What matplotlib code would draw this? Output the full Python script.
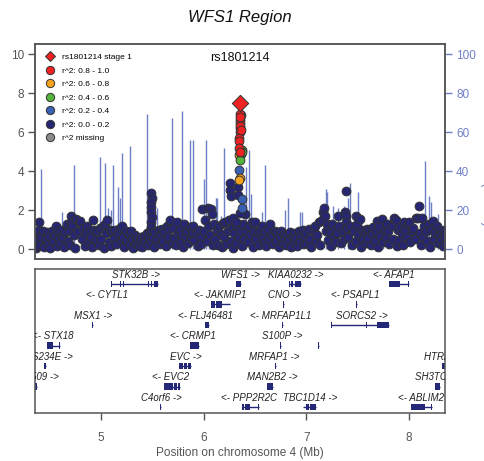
import matplotlib
matplotlib.use("Agg")
import matplotlib.pyplot as plt
from matplotlib.lines import Line2D
from matplotlib.patches import Rectangle

plt.rcParams['font.family'] = ['Liberation Sans', 'DejaVu Sans']

# --- association results (Mb, -log10 p) ---
lead_snp = "rs1801214"
lead_pos = [6.356]
lead_logp = [7.5]

r2_high_pos = [6.356, 6.352, 6.356, 6.352, 6.356, 6.344, 6.348, 6.340, 6.350, 6.354, 6.360, 6.358]
r2_high_logp = [6.9, 6.6, 6.45, 6.2, 6.0, 5.68, 5.54, 5.18, 6.75, 6.3, 6.1, 4.98]
r2_mid_pos = [6.346, 6.354, 6.347]
r2_mid_logp = [4.82, 3.62, 3.55]
r2_modest_pos = [6.364, 6.373, 6.366, 6.358, 6.370]
r2_modest_logp = [6.85, 5.08, 4.85, 4.56, 5.0]
r2_low_pos = [6.344, 6.374, 6.376]
r2_low_logp = [4.05, 2.55, 2.1]

# everything else sits in the r^2 0.0-0.2 bin
bg_pos = [
    4.365, 4.37, 4.372, 4.38, 4.385, 4.395, 4.40, 4.40,
    4.41, 4.42, 4.43, 4.44, 4.46, 4.47, 4.48, 4.49,
    4.50, 4.52, 4.53, 4.55, 4.56, 4.57, 4.58, 4.59,
    4.60, 4.61, 4.63, 4.64, 4.65, 4.67, 4.68, 4.69,
    4.70, 4.71, 4.71, 4.72, 4.74, 4.75, 4.76, 4.78, 4.79,
    4.80, 4.81, 4.82, 4.84, 4.85, 4.86, 4.88, 4.89,
    4.90, 4.91, 4.92, 4.93, 4.95, 4.96, 4.98, 4.99,
    5.00, 5.02, 5.03, 5.04, 5.05, 5.06, 5.08, 5.09,
    5.10, 5.11, 5.13, 5.14, 5.15, 5.17, 5.18, 5.19,
    5.20, 5.21, 5.22, 5.24, 5.25, 5.27, 5.28, 5.29,
    5.30, 5.31, 5.33, 5.34, 5.35, 5.37, 5.38, 5.39,
    5.40, 5.42, 5.43, 5.45, 5.46, 5.47, 5.48, 5.49,
    5.49, 5.495, 5.49, 5.485, 5.49, 5.495, 5.485, 5.49, 5.50,
    5.51, 5.52, 5.53, 5.55, 5.56, 5.57, 5.58, 5.59,
    5.60, 5.61, 5.63, 5.64, 5.65, 5.66, 5.67, 5.69,
    5.70, 5.71, 5.73, 5.74, 5.75, 5.77, 5.78, 5.79,
    5.80, 5.81, 5.83, 5.84, 5.85, 5.87, 5.88, 5.89,
    5.90, 5.91, 5.93, 5.94, 5.95, 5.97, 5.975, 5.985,
    6.00, 6.015, 6.03, 6.04, 6.05, 6.06, 6.075, 6.08, 6.09,
    6.10, 6.11, 6.13, 6.14, 6.15, 6.17, 6.18, 6.19,
    6.20, 6.21, 6.22, 6.24, 6.25, 6.27, 6.28, 6.29,
    6.30, 6.31, 6.32, 6.34, 6.36, 6.37, 6.38, 6.39,
    6.40, 6.415, 6.43, 6.44, 6.45, 6.47, 6.48, 6.49,
    6.50, 6.51, 6.53, 6.54, 6.55, 6.57, 6.58, 6.59,
    6.60, 6.61, 6.63, 6.64, 6.65, 6.67, 6.68, 6.69,
    6.70, 6.71, 6.73, 6.74, 6.75, 6.77, 6.78, 6.79,
    6.80, 6.81, 6.83, 6.84, 6.85, 6.87, 6.88, 6.89,
    6.90, 6.91, 6.93, 6.94, 6.95, 6.97, 6.98, 6.99,
    7.00, 7.01, 7.03, 7.04, 7.05, 7.07, 7.08, 7.09,
    7.10, 7.12, 7.13, 7.15, 7.16, 7.17, 7.18, 7.19,
    7.20, 7.21, 7.23, 7.24, 7.25, 7.27, 7.28, 7.29,
    7.30, 7.31, 7.32, 7.34, 7.36, 7.37, 7.38, 7.39, 7.39, 7.39,
    7.40, 7.41, 7.43, 7.44, 7.46, 7.485, 7.48, 7.49,
    7.50, 7.527, 7.53, 7.54, 7.55, 7.57, 7.58, 7.59,
    7.60, 7.61, 7.63, 7.64, 7.65, 7.67, 7.68, 7.69,
    7.70, 7.71, 7.72, 7.74, 7.75, 7.77, 7.78, 7.79,
    7.80, 7.81, 7.83, 7.84, 7.85, 7.87, 7.88, 7.89,
    7.90, 7.91, 7.93, 7.94, 7.95, 7.96, 7.98, 7.99,
    8.00, 8.01, 8.03, 8.04, 8.06, 8.07, 8.09, 8.10,
    8.11, 8.12, 8.13, 8.14, 8.15, 8.17, 8.18, 8.19,
    8.20, 8.21, 8.23, 8.24, 8.25, 8.27, 8.28, 8.29,
    8.30, 8.31, 8.32, 8.33, 8.34, 8.35, 8.36, 8.36,
    6.255, 6.26, 6.262, 6.33, 6.33, 6.35, 6.29, 6.31,
]
bg_logp = [
    0.35, 0.05, 0.75, 0.45, 0.15, 0.8, 1.38, 1.0,
    0.2, 0.6, 0.9, 0.1, 0.5, 0.85, 0.25, 0.65,
    0.05, 0.95, 0.4, 0.7, 1.2, 0.15, 0.9, 0.5,
    0.3, 1.0, 0.6, 0.1, 0.85, 1.3, 0.4, 0.95,
    0.2, 1.7, 1.4, 1.25, 0.7, 0.05, 1.55, 0.95, 1.4,
    1.45, 0.5, 1.1, 0.15, 0.8, 1.2, 0.35, 0.9,
    0.6, 0.1, 1.5, 1.0, 0.45, 0.9, 0.2, 1.1,
    0.5, 1.2, 0.05, 1.3, 0.8, 1.5, 0.35, 1.0,
    0.15, 0.9, 0.55, 1.0, 0.25, 0.8, 1.1, 0.45,
    1.2, 0.6, 0.1, 0.9, 0.4, 0.75, 0.2, 0.95,
    0.5, 0.05, 0.7, 0.3, 0.55, 0.15, 0.45, 0.6,
    0.1, 0.65, 0.35, 0.8, 0.2, 0.55, 0.9, 0.4,
    2.85, 2.6, 2.4, 2.15, 1.9, 1.65, 1.4, 1.15, 0.95,
    0.6, 0.1, 0.85, 0.45, 1.0, 0.25, 0.7, 1.05,
    0.4, 0.9, 0.15, 1.2, 0.6, 1.05, 1.5, 0.3,
    1.1, 0.55, 0.2, 1.4, 0.8, 1.0, 0.35, 0.7,
    0.1, 1.3, 0.6, 0.9, 0.3, 1.15, 0.5, 0.85,
    1.2, 0.45, 0.8, 0.15, 1.0, 0.6, 0.25, 2.05,
    0.9, 1.5, 0.4, 2.1, 1.2, 0.7, 2.05, 1.8, 0.2,
    1.3, 0.5, 1.0, 0.2, 1.2, 0.75, 0.1, 1.35,
    0.6, 1.4, 0.25, 0.9, 1.5, 0.4, 1.1, 0.05,
    0.8, 0.3, 1.2, 0.6, 0.95, 0.15, 1.3, 0.5,
    1.8, 0.9, 0.35, 1.2, 0.7, 1.4, 0.1, 0.95,
    1.4, 0.5, 0.85, 0.2, 1.0, 1.2, 0.6, 0.3,
    0.9, 0.15, 1.05, 0.5, 1.3, 0.7, 0.25, 0.95,
    0.4, 0.8, 0.1, 0.65, 0.95, 0.3, 0.75, 0.5,
    0.2, 0.7, 0.45, 0.85, 0.1, 0.6, 0.35, 0.8,
    0.55, 0.15, 0.9, 0.4, 0.7, 1.0, 0.25, 0.6,
    0.85, 0.3, 1.05, 0.5, 0.1, 0.9, 1.2, 0.4,
    0.7, 1.4, 0.2, 1.5, 1.9, 2.1, 1.7, 0.9,
    1.3, 0.45, 0.85, 0.15, 1.3, 0.6, 1.0, 0.35,
    0.8, 1.7, 1.2, 0.3, 0.9, 0.5, 1.9, 2.97, 1.7, 1.4,
    1.1, 0.6, 1.2, 0.2, 0.95, 1.7, 0.4, 1.3,
    0.75, 1.55, 0.1, 1.0, 0.5, 0.85, 0.3, 1.05,
    0.55, 1.0, 0.2, 0.8, 1.15, 0.4, 0.9, 1.45,
    0.1, 1.2, 0.65, 1.55, 0.35, 1.0, 0.6, 1.3,
    0.9, 0.25, 1.2, 0.5, 1.6, 1.5, 0.15, 1.0,
    0.45, 1.15, 0.8, 0.2, 1.4, 1.0, 0.6, 1.3,
    1.4, 0.35, 0.95, 1.1, 0.5, 1.6, 1.6, 2.2,
    0.8, 0.2, 1.6, 0.6, 1.2, 0.95, 0.4, 1.3,
    0.1, 1.0, 1.45, 0.5, 0.85, 1.2, 0.3, 0.75,
    1.0, 0.45, 0.8, 0.15, 1.0, 0.6, 0.3, 0.85,
    3.05, 3.4, 2.7, 3.2, 2.75, 1.85, 1.6, 1.4,
]

# --- recombination rate spikes (cM/Mb) ---
recomb_pos = [4.415, 4.45, 4.62, 4.74, 4.99, 5.04, 5.07, 5.10, 5.12, 5.17, 5.18,
              5.20, 5.28, 5.45, 5.55, 5.69, 5.79, 5.87, 5.90, 6.00, 6.02, 6.05,
              6.12, 6.13, 6.17, 6.20, 6.41, 6.44, 6.46, 6.57, 6.60, 6.79, 6.82,
              6.94, 6.96, 7.19, 7.20, 7.26, 7.31, 7.37, 7.41, 7.43, 7.50, 7.75,
              8.16, 8.19, 8.21, 8.28]
recomb_rate = [41, 8, 19, 43, 47, 44, 21, 20, 43, 32, 26,
               49, 53, 69, 21, 67, 71, 56, 56, 36, 56, 23,
               26, 26, 17, 52, 42, 51, 28, 19, 43, 20, 26,
               19, 19, 31, 29, 22, 21, 22, 26, 34, 29, 15,
               45, 27, 24, 18]

# --- genes: name, start, end, row, exon blocks, label anchor ---
gene_names = ["STK32B ->", "WFS1 ->", "KIAA0232 ->", "<- AFAP1",
              "<- CYTL1", "<- JAKMIP1", "CNO ->", "<- PSAPL1",
              "MSX1 ->", "<- FLJ46481", "<- MRFAP1L1", "SORCS2 ->",
              "<- STX18", "<- CRMP1", "S100P ->", "",
              "S234E ->", "EVC ->", "MRFAP1 ->", "", "HTRA3 ->",
              "ZNF509 ->", "<- EVC2", "MAN2B2 ->", "", "SH3TC1 ->",
              "C4orf6 ->", "<- PPP2R2C", "TBC1D14 ->", "<- ABLIM2"]
gene_start = [5.100, 6.318, 6.834, 7.810,
              5.064, 6.073, 6.776, 7.486,
              4.916, 6.008, 6.760, 7.244,
              4.470, 5.868, 6.742, 7.117,
              4.445, 5.760, 6.695, 7.110, 8.325,
              4.340, 5.615, 6.620, 7.100, 8.250,
              5.576, 6.373, 6.964, 8.015]
gene_end = [5.556, 6.362, 6.951, 8.000,
            5.072, 6.259, 6.784, 7.494,
            4.924, 6.050, 6.768, 7.803,
            4.600, 5.950, 6.750, 7.125,
            4.462, 5.880, 6.703, 7.118, 8.400,
            4.378, 5.770, 6.680, 7.108, 8.300,
            5.584, 6.535, 7.098, 8.220]
gene_row = [0, 0, 0, 0,
            1, 1, 1, 1,
            2, 2, 2, 2,
            3, 3, 3, 3,
            4, 4, 4, 4, 4,
            5, 5, 5, 5, 5,
            6, 6, 6, 6]
gene_exons = [
    [(5.100, 5.108), (5.182, 5.190), (5.214, 5.222), (5.457, 5.465), (5.490, 5.498), (5.515, 5.556)],
    [(6.318, 6.362)],
    [(6.834, 6.842), (6.848, 6.856), (6.862, 6.870), (6.876, 6.884), (6.890, 6.951)],
    [(7.810, 7.862), (7.866, 7.915), (7.994, 8.000)],
    [(5.064, 5.072)],
    [(6.073, 6.115), (6.120, 6.145), (6.150, 6.178), (6.253, 6.259)],
    [(6.776, 6.784)],
    [(7.486, 7.494)],
    [(4.916, 4.924)],
    [(6.008, 6.050)],
    [(6.760, 6.768)],
    [(7.244, 7.250), (7.450, 7.456), (7.583, 7.589), (7.690, 7.803)],
    [(4.470, 4.528), (4.594, 4.600)],
    [(5.868, 5.905), (5.910, 5.950)],
    [(6.742, 6.750)],
    [(7.117, 7.125)],
    [(4.445, 4.462)],
    [(5.760, 5.800), (5.806, 5.840), (5.846, 5.880)],
    [(6.695, 6.703)],
    [(7.110, 7.118)],
    [(8.325, 8.400)],
    [(4.340, 4.378)],
    [(5.615, 5.660), (5.667, 5.700), (5.708, 5.740), (5.746, 5.770)],
    [(6.620, 6.680)],
    [(7.100, 7.108)],
    [(8.250, 8.300)],
    [(5.576, 5.584)],
    [(6.373, 6.395), (6.400, 6.454), (6.529, 6.535)],
    [(6.964, 6.970), (7.000, 7.030), (7.036, 7.098)],
    [(8.015, 8.160), (8.214, 8.220)],
]
label_x = [5.344, 6.356, 6.900, 7.856,
           5.059, 6.156, 6.785, 7.473,
           4.927, 6.015, 6.753, 7.537,
           4.727, 5.898, 6.763, 7.121,
           4.727, 5.829, 6.686, 7.114, 8.144,
           4.590, 5.678, 6.668, 7.104, 8.054,
           5.593, 6.439, 7.039, 8.112]
label_ha = ["center", "center", "center", "center",
            "center", "center", "center", "center",
            "center", "center", "center", "center",
            "right", "center", "center", "center",
            "right", "center", "center", "center", "left",
            "right", "center", "center", "center", "left",
            "center", "center", "center", "center"]

xlim = (4.357, 8.351)
grey = "#555555"
recomb_col = "#6f7fc6"
gene_col = "#252877"
edge = "#333333"
c_lead = "#ee2222"
c_high = "#ee2222"
c_mid = "#f5a21f"
c_modest = "#55b43c"
c_low = "#3a60b3"
c_none = "#262673"
c_missing = "#8a8a8a"

fig = plt.figure(figsize=(4.85, 4.61), dpi=100)
ax = fig.add_axes([0.0722, 0.4382, 0.8454, 0.4653])
ax2 = ax.twinx()
ax.set_zorder(ax2.get_zorder() + 1)
ax.patch.set_visible(False)

# recombination rate on the right-hand scale
ax2.vlines(recomb_pos, 0, recomb_rate, color=recomb_col, lw=1.0)
ax2.set_ylim(-5.1, 104.9)
ax2.set_yticks([0, 20, 40, 60, 80, 100])
ax2.tick_params(axis='y', colors=recomb_col, labelsize=8.5, length=5, width=1, pad=3)
ax2.set_ylabel("Recombination rate (cM/Mb)", color=recomb_col, fontsize=8.5, rotation=270)
ax2.yaxis.set_label_coords(1.115, 0.5)

pt = dict(s=40, edgecolors=edge, linewidths=0.7)
ax.scatter(bg_pos, bg_logp, c=c_none, **pt)
ax.scatter(r2_low_pos, r2_low_logp, c=c_low, **pt)
ax.scatter(r2_mid_pos, r2_mid_logp, c=c_mid, **pt)
ax.scatter(r2_modest_pos, r2_modest_logp, c=c_modest, **pt)
ax.scatter(r2_high_pos, r2_high_logp, c=c_high, **pt)
ax.scatter(lead_pos, lead_logp, c=c_lead, marker='D', s=70, edgecolors=edge, linewidths=0.7)
ax.text(lead_pos[0], 9.8, lead_snp, ha='center', va='center', fontsize=9, color='#111111')

ax.set_xlim(*xlim)
ax.set_ylim(-0.51, 10.49)
ax.set_xticks([])
ax.set_yticks([0, 2, 4, 6, 8, 10])
ax.tick_params(axis='y', colors=grey, labelsize=8.5, length=5, width=1, pad=3)
ax.set_ylabel("-log10(p-value)", color=grey, fontsize=8.5)
ax.yaxis.set_label_coords(-0.088, 0.5)
for a in (ax, ax2):
    for sp in a.spines.values():
        sp.set_color(grey)
        sp.set_linewidth(1.1)

handles = [
    Line2D([], [], ls='none', marker='D', ms=5.5, mfc=c_lead, mec=edge, mew=0.7, label=f"{lead_snp} stage 1"),
    Line2D([], [], ls='none', marker='o', ms=6, mfc=c_high, mec=edge, mew=0.7, label="r^2: 0.8 - 1.0"),
    Line2D([], [], ls='none', marker='o', ms=6, mfc=c_mid, mec=edge, mew=0.7, label="r^2: 0.6 - 0.8"),
    Line2D([], [], ls='none', marker='o', ms=6, mfc=c_modest, mec=edge, mew=0.7, label="r^2: 0.4 - 0.6"),
    Line2D([], [], ls='none', marker='o', ms=6, mfc=c_low, mec=edge, mew=0.7, label="r^2: 0.2 - 0.4"),
    Line2D([], [], ls='none', marker='o', ms=6, mfc=c_none, mec=edge, mew=0.7, label="r^2: 0.0 - 0.2"),
    Line2D([], [], ls='none', marker='o', ms=6, mfc=c_missing, mec=edge, mew=0.7, label="r^2 missing"),
]
ax.legend(handles=handles, loc='upper left', bbox_to_anchor=(0.01, 0.99), frameon=False,
          fontsize=6, handlelength=1.0, handletextpad=0.9, labelspacing=0.68, borderpad=0.3)

# gene track
gx = fig.add_axes([0.0722, 0.1041, 0.8454, 0.3124])
gx.set_xlim(*xlim)
gx.set_ylim(-6.29, 0.73)
for name, s, e, row, exons, lx, ha in zip(gene_names, gene_start, gene_end, gene_row,
                                          gene_exons, label_x, label_ha):
    y = -row
    gx.plot([s, e], [y, y], color=gene_col, lw=1.0, solid_capstyle='butt')
    for es, ee in exons:
        gx.add_patch(Rectangle((es, y - 0.16), ee - es, 0.32, color=gene_col, lw=0))
    if name:
        gx.text(lx, y + 0.45, name, ha=ha, va='center', fontsize=7, style='italic',
                color='#222222', clip_on=True)

gx.set_yticks([])
gx.set_xticks([5, 6, 7, 8])
gx.tick_params(axis='x', colors=grey, labelsize=8.5, length=5, width=1, pad=9)
gx.set_xlabel("Position on chromosome 4 (Mb)", color=grey, fontsize=8.5, labelpad=2)
for sp in gx.spines.values():
    sp.set_color(grey)
    sp.set_linewidth(1.1)

fig.text(0.495, 0.961, "WFS1 Region", ha='center', va='center', fontsize=12, style='italic', color='#111111')

fig.savefig("out.png", dpi=100)
